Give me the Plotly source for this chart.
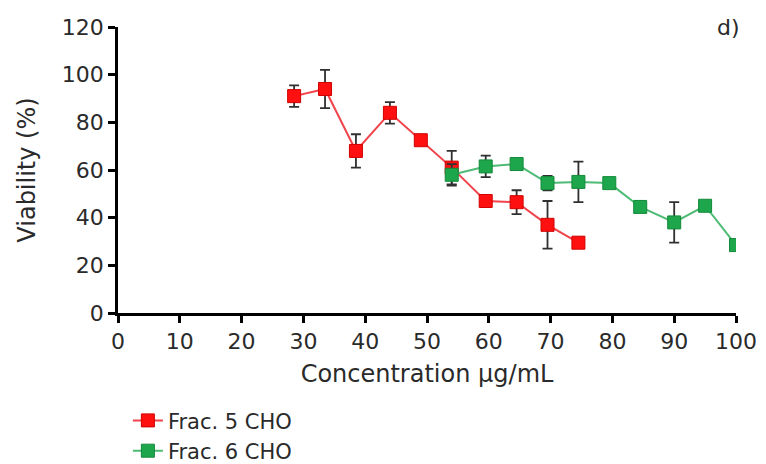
import plotly.graph_objects as go

# Frac. 5 CHO
x_frac5 = [28.5, 33.5, 38.5, 44, 49, 54, 59.5, 64.5, 69.5, 74.5]
y_frac5 = [91, 94, 68, 84, 72.5, 61, 47, 46.5, 37, 29.5]
err_frac5 = [4.5, 8, 7, 4.5, 1, 7, 1, 5, 10, 1]

# Frac. 6 CHO
x_frac6 = [54, 59.5, 64.5, 69.5, 74.5, 79.5, 84.5, 90, 95, 100]
y_frac6 = [58, 61.5, 62.5, 54.5, 55, 54.5, 44.5, 38, 45, 28.5]
err_frac6 = [4.5, 4.5, 1, 3, 8.5, 1, 1, 8.5, 1, 1]

x_ticks = list(range(0, 101, 10))
y_ticks = list(range(0, 121, 20))

font_family = "DejaVu Sans"
text_color = "#2a2a2a"

fig = go.Figure()
fig.add_trace(go.Scatter(
    x=x_frac5, y=y_frac5, name="Frac. 5 CHO", mode="lines+markers",
    line=dict(color="#f0444a", width=2),
    marker=dict(symbol="square", size=13, color="#ff1010", line=dict(color="#d00000", width=1)),
    error_y=dict(type="data", array=err_frac5, color="#303030", thickness=1.8, width=5),
))
fig.add_trace(go.Scatter(
    x=x_frac6, y=y_frac6, name="Frac. 6 CHO", mode="lines+markers",
    line=dict(color="#4dbb74", width=2),
    marker=dict(symbol="square", size=13, color="#1ea64c", line=dict(color="#138a3a", width=1)),
    error_y=dict(type="data", array=err_frac6, color="#303030", thickness=1.8, width=5),
))

fig.add_annotation(x=1.01, y=1.0, xref="paper", yref="paper", text="d)", showarrow=False,
                   xanchor="right", yanchor="middle", font=dict(size=22, color=text_color, family=font_family))

fig.update_layout(
    width=766, height=464,
    margin=dict(l=118, r=30, t=27, b=151, autoexpand=False),
    plot_bgcolor="white", paper_bgcolor="white",
    font=dict(family=font_family, size=22, color=text_color),
    xaxis=dict(range=[0, 100], tickvals=x_ticks, ticktext=[str(v) for v in x_ticks],
               showline=True, linecolor="black", linewidth=2.5, ticks="outside", ticklen=7,
               tickwidth=2.5, tickcolor="black", showgrid=False, zeroline=False,
               tickfont=dict(size=22),
               title=dict(text="Concentration µg/mL", standoff=13, font=dict(size=24))),
    yaxis=dict(range=[0, 120], tickvals=y_ticks, ticktext=[str(v) for v in y_ticks],
               showline=True, linecolor="black", linewidth=2.5, ticks="outside", ticklen=7,
               tickwidth=2.5, tickcolor="black", showgrid=False, zeroline=False,
               tickfont=dict(size=22),
               title=dict(text="Viability (%)", standoff=20, font=dict(size=24))),
    legend=dict(x=0.016, y=-0.305, xanchor="left", yanchor="top", orientation="v",
                traceorder="normal", font=dict(size=21), bgcolor="rgba(0,0,0,0)"),
    showlegend=True,
)

fig.write_html("out.html", config={"displayModeBar": False},
               post_script="document.body.style.margin='0px';")
